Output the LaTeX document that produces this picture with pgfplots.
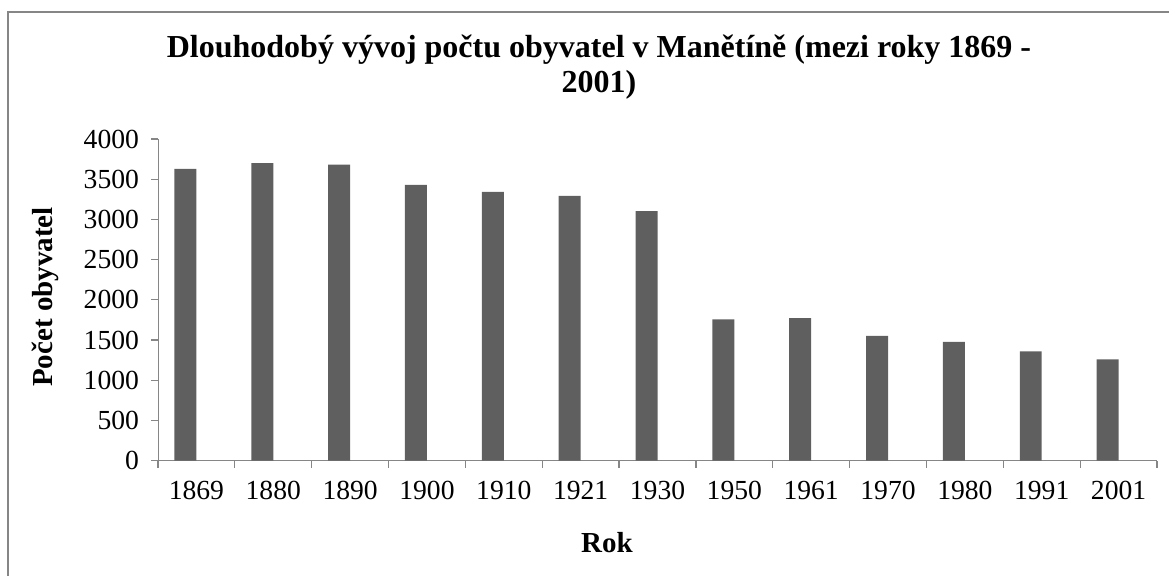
\documentclass[border=0pt]{standalone}
\usepackage{pgfplots}
\pgfplotsset{compat=1.18}
\usepackage{fontspec}
\setmainfont{Liberation Serif}
\definecolor{bargray}{HTML}{5F5F5F}
\definecolor{axisgray}{HTML}{868686}
\begin{document}
\begin{tikzpicture}
\useasboundingbox (0,0) rectangle (584.5pt,-287.5pt);
\draw[axisgray, line width=1pt] (604pt,-6pt) -- (4pt,-6pt) -- (4pt,-300pt);
\begin{axis}[
  at={(79pt,-230.3pt)}, anchor=south west,
  scale only axis, width=499.5pt, height=160.8pt,
  xmin=-0.5, xmax=12.5, ymin=0, ymax=4000,
  axis lines=left, axis line style={-, draw=axisgray},
  xtick={0,...,12},
  xticklabels={1869,1880,1890,1900,1910,1921,1930,1950,1961,1970,1980,1991,2001},
  minor xtick={-0.5,0.5,...,12.5},
  major x tick style={draw=none},
  minor tick length=3.5pt, major tick length=3.5pt,
  tick align=outside, tick style={axisgray, line width=0.6pt},
  ytick={0,500,...,4000},
  scaled y ticks=false,
  /pgf/number format/assume math mode=true,
  /pgf/number format/1000 sep={},
  tick label style={font=\fontsize{13.8}{13.8}\selectfont, black},
  yticklabel style={xshift=-2.5pt},
  xticklabel style={yshift=-3pt, text height=9.5pt, text depth=0pt},
  ybar, bar width=0.286, bar shift=-0.143,
]
\addplot[fill=bargray, draw=none] coordinates {
(0,3630) (1,3701) (2,3680) (3,3431) (4,3344) (5,3294) (6,3104)
(7,1757) (8,1773) (9,1553) (10,1478) (11,1359) (12,1260)};
\end{axis}
\node[font=\fontsize{16}{17.5}\selectfont\bfseries, align=center] at (299.5pt,-33.75pt)
  {Dlouhodobý vývoj počtu obyvatel v Manětíně (mezi roky 1869 -\\2001)};
\node[font=\fontsize{14.5}{14.5}\selectfont\bfseries] at (303.5pt,-271.5pt) {Rok};
\node[font=\fontsize{14.5}{14.5}\selectfont\bfseries, rotate=90] at (22.5pt,-148.5pt) {Počet obyvatel};
\end{tikzpicture}
\end{document}
